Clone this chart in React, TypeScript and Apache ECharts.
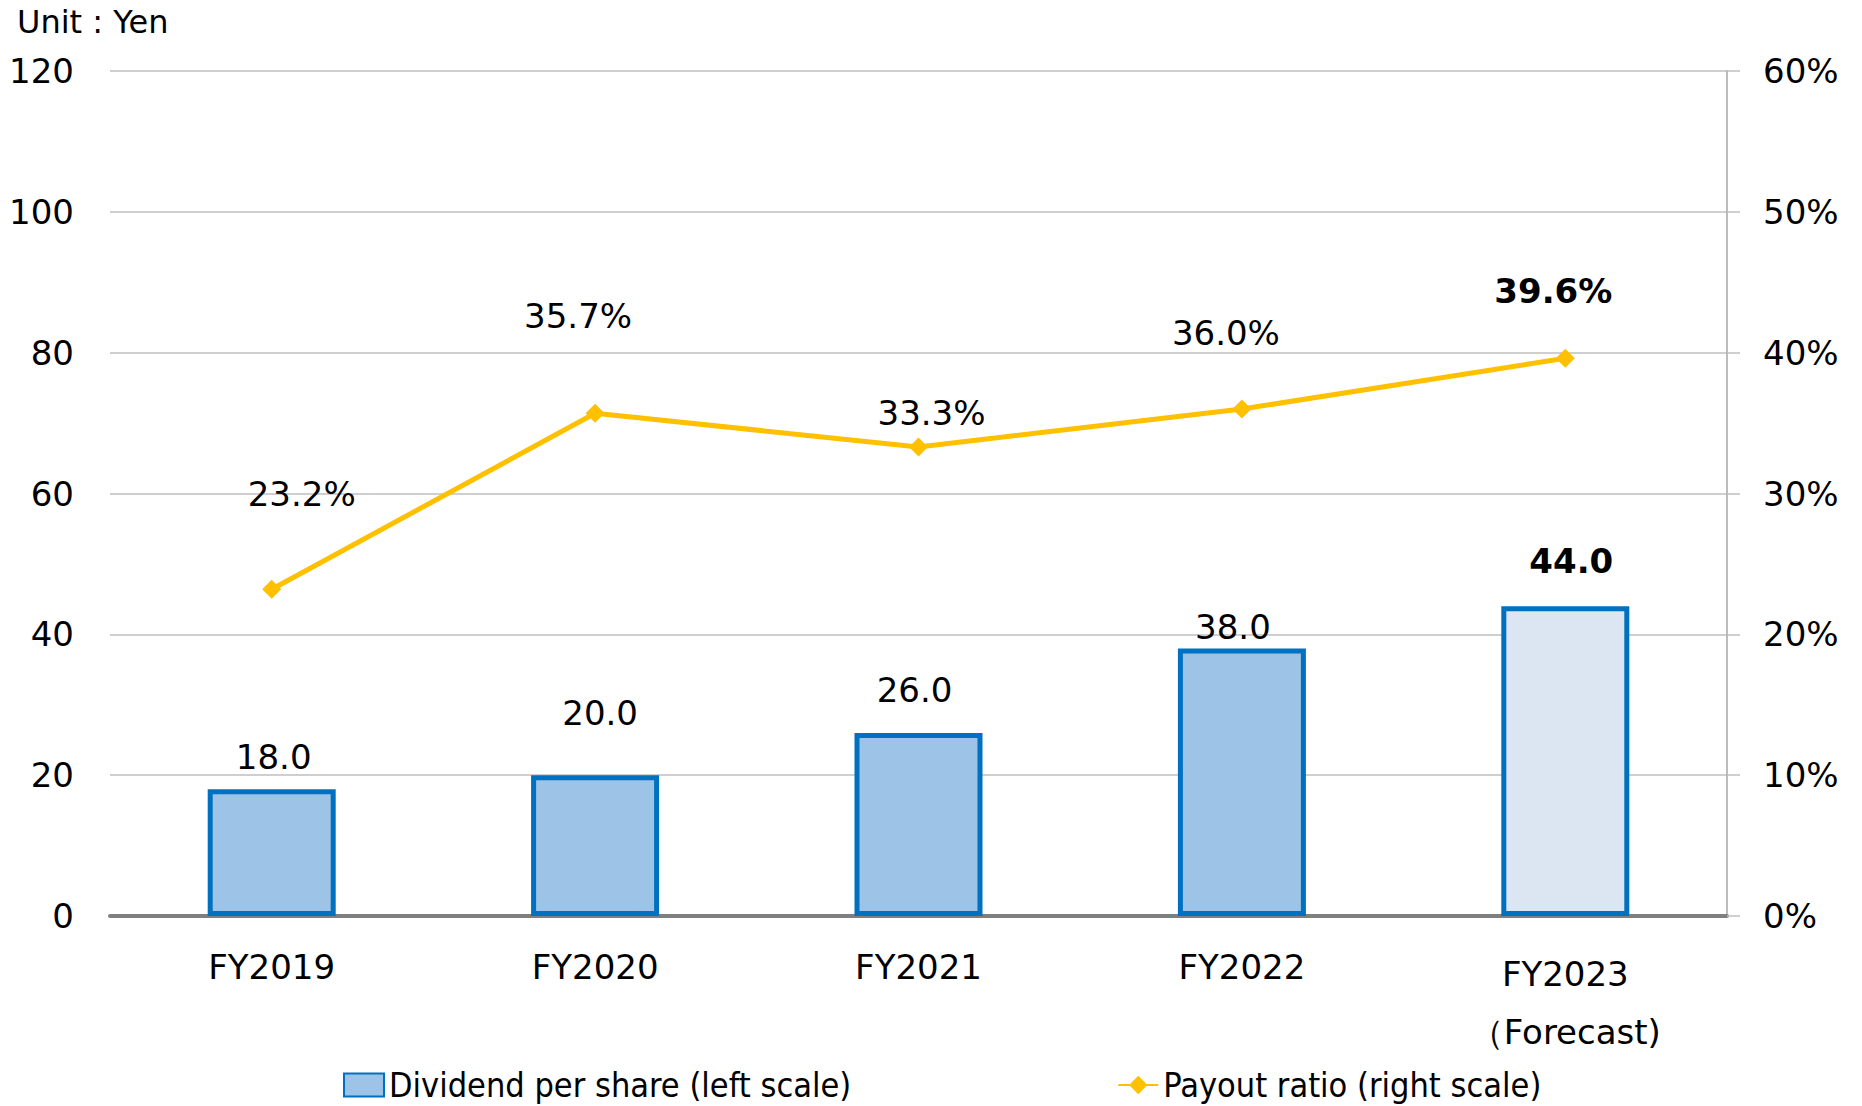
import React, { useEffect, useRef } from "react";
import * as echarts from "echarts";

const categories = ["FY2019", "FY2020", "FY2021", "FY2022", "FY2023\n（Forecast)"];
const dividendPerShare = [18.0, 20.0, 26.0, 38.0, 44.0];
const payoutRatio = [23.2, 35.7, 33.3, 36.0, 39.6];
const leftTicks = { min: 0, max: 120, interval: 20 };
const rightTicks = { min: 0, max: 60, interval: 10 };
const seriesNames = ["Dividend per share (left scale)", "Payout ratio (right scale)"];
const unitLabel = "Unit : Yen";

// layout-only label offsets [dx, dy]
const barLabelOffsets = [[2, -15], [5, -45], [-4, -26], [-9, -4], [6, -28]];
const lineLabelOffsets = [[30, -95], [-17, -97], [13, -34], [-16, -76], [-12, -67]];
const boldIndex = 4;

const FONT = "'DejaVu Sans', Verdana, sans-serif";

export default function App() {
  const ref = useRef<HTMLDivElement>(null);
  useEffect(() => {
    if (!ref.current) return;
    const chart = echarts.init(ref.current, null, { renderer: "svg" });
    const barColor = "#9DC3E6";
    const forecastColor = "#DCE6F2";
    const option: any = {
      animation: false,
      backgroundColor: "#FFFFFF",
      textStyle: { fontFamily: FONT, color: "#000" },
      grid: { left: 110, right: 135, top: 71, bottom: 190, containLabel: false },
      graphic: [
        {
          type: "text",
          left: 17,
          top: 6,
          style: { text: unitLabel, font: `32px ${FONT}`, fill: "#000" },
        },
      ],
      legend: {
        left: 338,
        top: 1063,
        itemWidth: 40,
        itemHeight: 23,
        itemGap: 266,
        textStyle: {
          fontFamily: "'DejaVu Sans Condensed', 'Liberation Sans Narrow', sans-serif",
          fontSize: 34,
          lineHeight: 34,
          color: "#000",
        },
        data: [
          { name: seriesNames[0], icon: "rect" },
          { name: seriesNames[1] },
        ],
      },
      xAxis: {
        type: "category",
        data: categories,
        axisLine: { show: true, lineStyle: { color: "#7F7F7F", width: 4 } },
        axisTick: { show: false },
        axisLabel: {
          margin: 29,
          formatter: (v: string) =>
            v.indexOf("\n") >= 0
              ? v.split("\n").map((s) => `{a|${s}}`).join("\n")
              : `{b|${v}}`,
          rich: {
            a: { fontSize: 34, lineHeight: 58, fontFamily: FONT, color: "#000" },
            b: { fontSize: 34, lineHeight: 44, fontFamily: FONT, color: "#000" },
          },
        },
      },
      yAxis: [
        {
          type: "value",
          min: leftTicks.min,
          max: leftTicks.max,
          interval: leftTicks.interval,
          axisLine: { show: false },
          axisTick: { show: false },
          axisLabel: { margin: 36, fontSize: 34, color: "#000", fontFamily: FONT },
          splitLine: { show: true, lineStyle: { color: "#BFBFBF", width: 1.5 } },
        },
        {
          type: "value",
          position: "right",
          min: rightTicks.min,
          max: rightTicks.max,
          interval: rightTicks.interval,
          axisLine: { show: true, lineStyle: { color: "#A6A6A6", width: 1.5 } },
          axisTick: { show: true, length: 13, lineStyle: { color: "#BFBFBF", width: 1.5 } },
          axisLabel: {
            margin: 36,
            fontSize: 34,
            color: "#000",
            fontFamily: FONT,
            formatter: "{value}%",
          },
          splitLine: { show: false },
        },
      ],
      series: [
        {
          name: seriesNames[0],
          type: "bar",
          yAxisIndex: 0,
          barWidth: 128,
          itemStyle: { color: barColor, borderColor: "#0070C0", borderWidth: 5 },
          data: dividendPerShare.map((v, i) => ({
            value: v,
            itemStyle: i === boldIndex ? { color: forecastColor } : undefined,
            label: {
              show: true,
              position: "top",
              distance: 0,
              offset: barLabelOffsets[i],
              fontSize: 34,
              lineHeight: 34,
              fontFamily: FONT,
              color: "#000",
              fontWeight: i === boldIndex ? "bold" : "normal",
              formatter: (p: any) => Number(p.value).toFixed(1),
            },
          })),
          z: 2,
        },
        {
          name: seriesNames[1],
          type: "line",
          yAxisIndex: 1,
          symbol: "diamond",
          symbolSize: 19,
          color: "#FFC000",
          lineStyle: { color: "#FFC000", width: 5 },
          itemStyle: { color: "#FFC000" },
          data: payoutRatio.map((v, i) => ({
            value: v,
            label: {
              show: true,
              position: "inside",
              offset: lineLabelOffsets[i],
              fontSize: 34,
              lineHeight: 34,
              fontFamily: FONT,
              color: "#000",
              fontWeight: i === boldIndex ? "bold" : "normal",
              formatter: (p: any) => Number(p.value).toFixed(1) + "%",
            },
          })),
          z: 3,
        },
      ],
    };
    chart.setOption(option);
    return () => chart.dispose();
  }, []);
  return (
    <div
      ref={ref}
      style={{ position: "fixed", left: 0, top: 0, width: 1862, height: 1106 }}
    />
  );
}
